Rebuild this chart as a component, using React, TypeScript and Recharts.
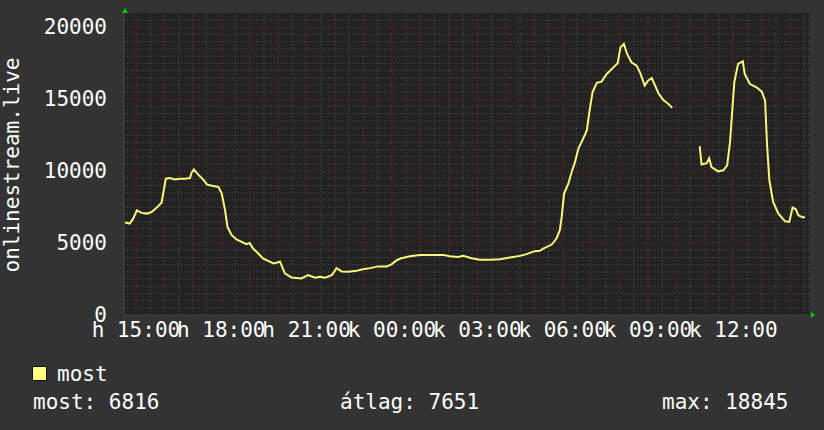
import { LineChart, Line, XAxis, YAxis, CartesianGrid, ReferenceLine, ReferenceDot } from "recharts";

// 24h window
const times = [
  "14:37", "14:47", "14:54", "15:02", "15:12", "15:23", "15:33", "15:44", "15:54", "15:58",
  "16:03", "16:12", "16:22", "16:33", "16:43", "16:54", "16:57", "17:02", "17:11", "17:22",
  "17:30", "17:43", "17:54", "18:01", "18:08", "18:13", "18:22", "18:32", "18:43", "18:53",
  "19:00", "19:07", "19:18", "19:28", "19:50", "20:04", "20:14", "20:28", "20:49", "21:03",
  "21:18", "21:28", "21:39", "21:53", "21:58", "22:03", "22:14", "22:28", "22:45", "22:56",
  "23:14", "23:31", "23:49", "23:59", "00:10", "00:20", "00:38", "00:59", "01:20", "01:48",
  "02:02", "02:20", "02:30", "02:48", "03:05", "03:27", "03:48", "04:09", "04:30", "04:44",
  "05:01", "05:12", "05:19", "05:37", "05:47", "05:54", "05:58", "06:03", "06:12", "06:19",
  "06:26", "06:33", "06:43", "06:51", "06:57", "07:03", "07:12", "07:22", "07:33", "07:47",
  "07:56", "08:02", "08:09", "08:16", "08:25", "08:36", "08:44", "08:53", "09:00", "09:08",
  "09:15", "09:22", "09:32", "09:43", "09:51", "10:20", "10:49", "10:53", "11:04", "11:09",
  "11:14", "11:28", "11:39", "11:47", "11:53", "12:02", "12:10", "12:20", "12:24", "12:35",
  "12:49", "13:00", "13:07", "13:11", "13:16", "13:24", "13:35", "13:49", "13:58", "14:05",
  "14:12", "14:17", "14:27", "14:31",
];

const most: (number | null)[] = [
  6430, 6360, 6700, 7280, 7100, 7050, 7160, 7470, 7810, 8550,
  9480, 9520, 9430, 9480, 9480, 9520, 9870, 10120, 9780, 9410,
  9060, 8970, 8900, 8440, 7280, 6120, 5550, 5250, 5080, 4920,
  5010, 4620, 4280, 3930, 3590, 3700, 2890, 2610, 2540, 2770,
  2590, 2660, 2590, 2770, 3000, 3260, 3030, 3000, 3070, 3170,
  3260, 3380, 3380, 3520, 3810, 3950, 4090, 4180, 4180, 4180,
  4090, 4040, 4110, 3950, 3840, 3840, 3880, 4000, 4110, 4230,
  4440, 4460, 4620, 4900, 5320, 5890, 6820, 8440, 9130, 9940,
  10630, 11560, 12250, 12830, 14260, 15490, 16140, 16230, 16760, 17220,
  17500, 18610, 18845, 18150, 17570, 17340, 16800, 15950, 16300, 16480,
  15950, 15420, 14960, 14680, 14400, null, 11740, 10470, 10560, 10910,
  10280, 9990, 10060, 10400, 12020, 16180, 17460, 17640, 16760, 16060,
  15830, 15530, 14910, 11910, 9360, 7860, 7050, 6520, 6470, 7470,
  7350, 6930, 6780, 6816,
];

const xTicks = [15, 18, 21, 24, 27, 30, 33, 36];
const xTickLabels = ["h 15:00", "h 18:00", "h 21:00", "k 00:00", "k 03:00", "k 06:00", "k 09:00", "k 12:00"];
const yTicks = [0, 5000, 10000, 15000, 20000];
const statLabels = ["most: 6816", "átlag: 7651", "max: 18845"];

const X_MIN = 14.58;
const X_MAX = 38.66;
const Y_MAX = 21000;

const FONT = "'DejaVu Sans Mono', monospace";
const LINE = "#f8f87a";
const MINOR = "#505050";
const MAJOR = "#8c2a2a";

// hh:mm -> hours, rolling over midnight
const toHours = (list: string[]) => {
  let day = 0;
  let prev = -1;
  return list.map((s) => {
    const [h, m] = s.split(":").map(Number);
    let v = h + m / 60 + day;
    if (v < prev) {
      day += 24;
      v += 24;
    }
    prev = v;
    return v;
  });
};

const hours = toHours(times);
const data = hours.map((t, i) => ({ t, most: most[i] }));

const minorY: number[] = [];
for (let v = 500; v < Y_MAX; v += 500) if (v % 5000 !== 0) minorY.push(v);
const majorY = [5000, 10000, 15000, 20000];
const minorX: number[] = [];
const majorX: number[] = [];
for (let h = 15; h < X_MAX; h++) {
  majorX.push(h);
  if (h + 0.5 < X_MAX) minorX.push(h + 0.5);
}

const XTick = (p: any) => (
  <text x={p.x} y={p.y + 21.5} textAnchor="middle" fill="#fff" fontFamily={FONT} fontSize={21}>
    {xTickLabels[xTicks.indexOf(p.payload.value)]}
  </text>
);

const YTick = (p: any) => (
  <text x={p.x - 17} y={p.y + 7} textAnchor="end" fill="#fff" fontFamily={FONT} fontSize={21}>
    {p.payload.value}
  </text>
);

const upArrow = (p: any) => (
  <polygon points={`${p.cx + 1},${p.cy - 5} ${p.cx - 2},${p.cy} ${p.cx + 4},${p.cy}`} fill="#00cc00" />
);
const rightArrow = (p: any) => (
  <polygon points={`${p.cx + 6},${p.cy} ${p.cx + 2},${p.cy - 3} ${p.cx + 2},${p.cy + 3}`} fill="#00cc00" />
);

export default function App() {
  return (
    <div style={{ position: "absolute", left: 0, top: 0, width: 824, height: 430, background: "#333" }}>
      <LineChart width={824} height={430} data={data} margin={{ top: 13, right: 15, left: 0, bottom: 85 }}>
        <CartesianGrid fill="#222" stroke="none" horizontal={false} vertical={false} />
        {minorY.map((v) => (
          <ReferenceLine key={"my" + v} y={v} stroke={MINOR} strokeWidth={1} strokeDasharray="1 2" />
        ))}
        {minorX.map((v) => (
          <ReferenceLine key={"mx" + v} x={v} stroke={MINOR} strokeWidth={1} strokeDasharray="1 2" />
        ))}
        {majorY.map((v) => (
          <ReferenceLine key={"My" + v} y={v} stroke={MAJOR} strokeWidth={1} strokeDasharray="1 2" />
        ))}
        {majorX.map((v) => (
          <ReferenceLine key={"Mx" + v} x={v} stroke={MAJOR} strokeWidth={1} strokeDasharray="1 2" />
        ))}
        <XAxis
          type="number"
          dataKey="t"
          domain={[X_MIN, X_MAX]}
          ticks={xTicks}
          allowDataOverflow
          height={30}
          tickSize={0}
          tickMargin={0}
          axisLine={{ stroke: "#444" }}
          tick={XTick}
        />
        <YAxis
          type="number"
          domain={[0, Y_MAX]}
          ticks={yTicks}
          allowDataOverflow
          width={124}
          tickSize={0}
          tickMargin={0}
          axisLine={{ stroke: "#444" }}
          tick={YTick}
        />
        <Line
          type="linear"
          dataKey="most"
          stroke={LINE}
          strokeWidth={2}
          dot={false}
          activeDot={false}
          connectNulls={false}
          isAnimationActive={false}
        />
        <ReferenceDot x={X_MIN} y={Y_MAX} ifOverflow="visible" shape={upArrow} />
        <ReferenceDot x={X_MAX} y={0} ifOverflow="visible" shape={rightArrow} />
      </LineChart>
      <svg width={824} height={430} style={{ position: "absolute", left: 0, top: 0, pointerEvents: "none" }}>
        <text
          x={19}
          y={165}
          transform="rotate(-90, 19, 165)"
          textAnchor="middle"
          fill="#fff"
          fontFamily={FONT}
          fontSize={21}
        >
          onlinestream.live
        </text>
        <rect x={32.5} y={366.5} width={14} height={14} fill="#ffff80" stroke="#111" />
        <text x={57} y={381} fill="#fff" fontFamily={FONT} fontSize={21}>
          most
        </text>
        <text x={33} y={409} fill="#fff" fontFamily={FONT} fontSize={21}>
          {statLabels[0]}
        </text>
        <text x={340} y={409} fill="#fff" fontFamily={FONT} fontSize={21}>
          {statLabels[1]}
        </text>
        <text x={662} y={409} fill="#fff" fontFamily={FONT} fontSize={21}>
          {statLabels[2]}
        </text>
      </svg>
    </div>
  );
}
